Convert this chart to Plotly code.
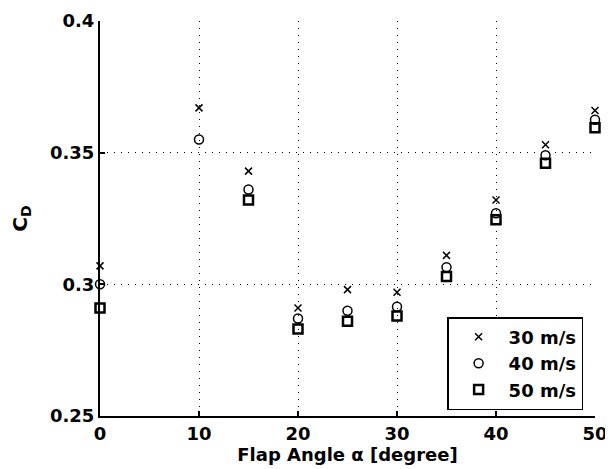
import plotly.graph_objects as go

flap_angle = [0, 10, 15, 20, 25, 30, 35, 40, 45, 50]
cd_30 = [0.307, 0.367, 0.343, 0.291, 0.298, 0.297, 0.311, 0.332, 0.353, 0.366]
cd_40 = [0.300, 0.355, 0.336, 0.287, 0.290, 0.2915, 0.3065, 0.327, 0.349, 0.3625]
cd_50 = [0.291, None, 0.332, 0.283, 0.286, 0.288, 0.303, 0.3245, 0.346, 0.3595]
series_names = ["30 m/s", "40 m/s", "50 m/s"]

x_ticks = [0, 10, 20, 30, 40, 50]
y_ticks = [0.25, 0.3, 0.35, 0.4]
y_ticklabels = ["0.25", "0.3", "0.35", "0.4"]

font_fam = "DejaVu Sans, sans-serif"

fig = go.Figure()
styles = [
    dict(symbol="x-thin-open", size=7, line=dict(width=1.5, color="black")),
    dict(symbol="circle-open", size=9, line=dict(width=1.5, color="black")),
    dict(symbol="square-open", size=9, line=dict(width=2.5, color="black")),
]
for i, (name, vals, st) in enumerate(zip(series_names, [cd_30, cd_40, cd_50], styles)):
    fig.add_trace(go.Scatter(x=flap_angle, y=vals, mode="markers", name="<b>" + name + "</b>",
                             legendgroup="g%d" % i,
                             marker=dict(color="black", **st), cliponaxis=False))

axis_common = dict(
    showgrid=True, gridcolor="black", gridwidth=1, griddash="1px,6px",
    zeroline=False, showline=True, linecolor="black", linewidth=2,
    ticks="inside", ticklen=5, tickcolor="black", tickwidth=1.5,
    tickfont=dict(family=font_fam, size=18, color="black"),
    automargin=False,
)

fig.update_xaxes(range=[0, 50], tickvals=x_ticks,
                 ticktext=["<b>%d</b>" % t for t in x_ticks],
                 title=dict(text="<b>Flap Angle α [degree]</b>", standoff=4,
                            font=dict(family=font_fam, size=18, color="black")),
                 **axis_common)
fig.update_yaxes(range=[0.25, 0.4], tickvals=y_ticks,
                 ticktext=["<b>%s</b>" % t for t in y_ticklabels],
                 title=dict(text="<b>C<sub>D</sub></b>", standoff=20,
                            font=dict(family=font_fam, size=20, color="black")),
                 **axis_common)

fig.update_layout(
    width=605, height=461,
    margin=dict(l=92, r=18, t=13, b=53),
    paper_bgcolor="white", plot_bgcolor="white",
    showlegend=True,
    legend=dict(x=0.976, y=0.015, xanchor="right", yanchor="bottom",
                bgcolor="white", bordercolor="black", borderwidth=1.5,
                font=dict(family=font_fam, size=18, color="black"),
                tracegroupgap=0, itemwidth=50),
)

fig.write_html("out.html")
